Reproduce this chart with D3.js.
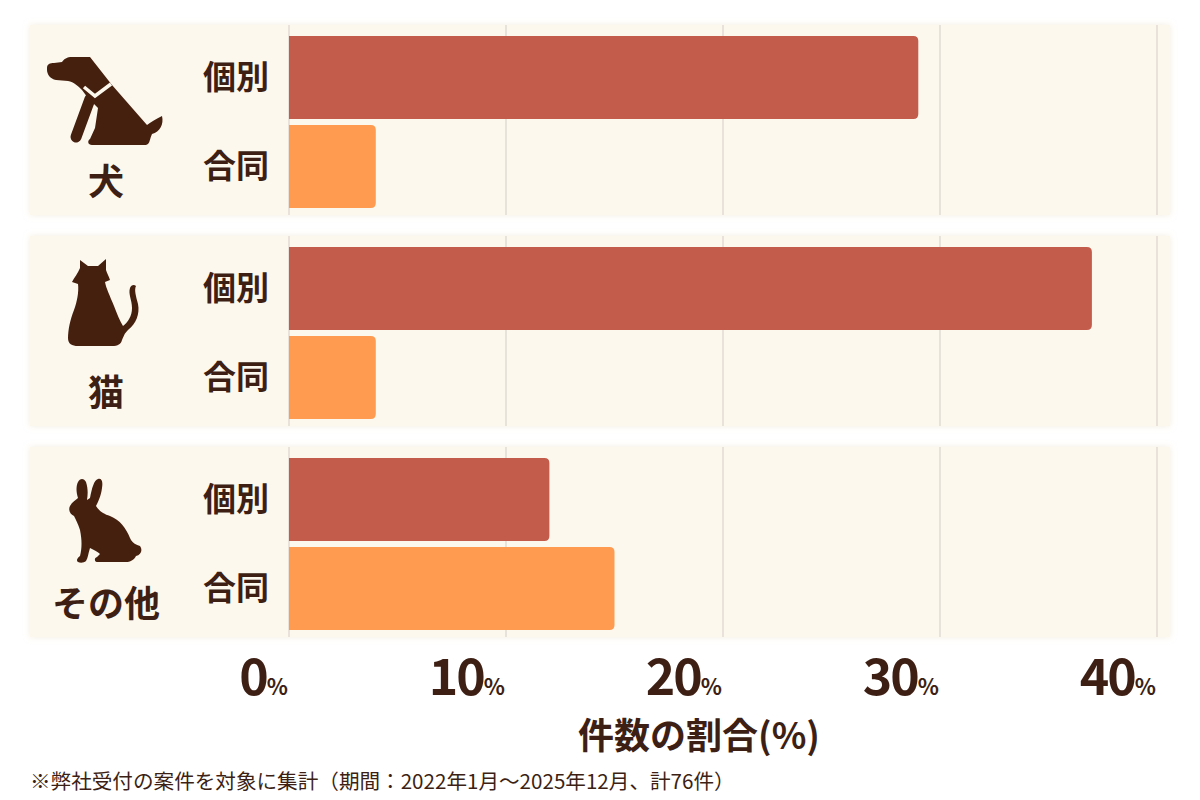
<!DOCTYPE html>
<html>
<head>
<meta charset="utf-8">
<script src="https://cdn.jsdelivr.net/npm/d3@7"></script>
<style>
  body { margin: 0; background: #fff; }
  svg text { font-family: "Noto Sans CJK JP", "Noto Sans", sans-serif; }
</style>
</head>
<body>
<div id="chart"></div>
<script>
// animal groups and the two service types
const animals = ["犬", "猫", "その他"];
const kinds = ["個別", "合同"];
// share of cases (%)
const kobetsu = [29, 37, 12];
const goudou = [4, 4, 15];
const ticks = [0, 10, 20, 30, 40];
const axisTitle = "件数の割合(%)";
const footnote = "※弊社受付の案件を対象に集計（期間：2022年1月～2025年12月、計76件）";

const width = 1200, height = 800;
const ink = "#3d1f14";
const panelFill = "#fdf8ee";
const colors = { "個別": "#c45c4c", "合同": "#fe9b50" };

const rows = animals.map((a, i) => ({ animal: a, values: [
  { kind: "個別", value: kobetsu[i] },
  { kind: "合同", value: goudou[i] }
] }));

const svg = d3.select("#chart").append("svg")
  .attr("width", width)
  .attr("height", height);

const defs = svg.append("defs");
const f = defs.append("filter").attr("id", "soft")
  .attr("x", "-5%").attr("y", "-10%").attr("width", "110%").attr("height", "120%");
f.append("feDropShadow").attr("dx", 0).attr("dy", 0)
  .attr("stdDeviation", 3).attr("flood-color", "#ece2cc").attr("flood-opacity", 0.6);

let x = d3.scaleLinear().domain([0, 40]).range([289, 1157]);
let y = d3.scaleBand().domain(animals).range([25, 637]).paddingInner(0.0995);
let yIn = d3.scaleBand().domain(kinds).range([11, 183]).paddingInner(0.0674);

// bar with rounded right end
function bar(x0, x1, y0, h, r) {
  r = Math.min(r, (x1 - x0));
  return "M" + x0 + "," + y0 +
    "H" + (x1 - r) + "Q" + x1 + "," + y0 + " " + x1 + "," + (y0 + r) +
    "V" + (y0 + h - r) + "Q" + x1 + "," + (y0 + h) + " " + (x1 - r) + "," + (y0 + h) +
    "H" + x0 + "Z";
}

let group = svg.selectAll(".panel")
  .data(rows)
  .enter()
  .append("g")
  .attr("class", "panel")
  .attr("transform", d => "translate(0," + y(d.animal) + ")");

group.append("rect")
  .attr("x", 30)
  .attr("width", 1140)
  .attr("height", y.bandwidth())
  .attr("fill", panelFill)
  .attr("filter", "url(#soft)");

// grid lines only inside panels
group.selectAll(".grid")
  .data(ticks)
  .enter()
  .append("line")
  .attr("x1", d => x(d)).attr("x2", d => x(d))
  .attr("y1", 0).attr("y2", y.bandwidth())
  .attr("stroke", "#d2cdc6")
  .attr("stroke-width", 1);

group.selectAll(".bar")
  .data(d => d.values)
  .enter()
  .append("path")
  .attr("d", d => bar(x(0), x(d.value), yIn(d.kind), yIn.bandwidth(), 5))
  .attr("fill", d => colors[d.kind]);

group.selectAll(".kind")
  .data(d => d.values)
  .enter()
  .append("text")
  .attr("x", 236)
  .attr("y", d => yIn(d.kind) + yIn.bandwidth() / 2)
  .attr("dy", "0.36em")
  .attr("text-anchor", "middle")
  .style("font-size", "33px")
  .style("font-weight", 700)
  .style("fill", ink)
  .text(d => d.kind);

group.append("text")
  .attr("x", 106)
  .attr("y", 170)
  .attr("text-anchor", "middle")
  .style("font-size", "36px")
  .style("font-weight", 700)
  .style("fill", ink)
  .text(d => d.animal);

// silhouettes (page coordinates for the dog, shifted for the others)
const icons = {
  "犬": {
    t: "translate(0,-25)",
    d: "M47,68 C47,64 50,63 54,63 L62,62 C64,59 67,57 72,57 L90,57 L112,85 L147,125 " +
       "C151,122 156,119 162,116 C164,124 160,132 152,134 C150,138 150,142 148,144 L146,145 " +
       "L92,145 C88,145 87,141 90,139 L95,128 L98,108 C92,102 86,96 82,90 C78,86 74,82 68,81 " +
       "L56,80 C50,79 47,74 47,70 Z"
  },
  "猫": {
    t: "translate(66,22)",
    d: "M14,10 L14,2 L22,8 L32,8 L40,1 L40,12 C41,15 43,19 44,22 L39,24 C40,30 44,38 48,48 " +
       "C51,56 54,63 57,68 C62,64 66,58 66,50 C66,42 62,36 64,30 C65,27 68,26 70,28 " +
       "C68,32 70,38 72,46 C74,56 70,66 62,72 C58,76 58,78 56,82 C55,86 52,88 46,88 " +
       "L12,88 C6,88 2,86 2,80 C2,72 4,62 8,52 C11,44 13,34 12,26 L6,24 C8,20 12,15 14,10 Z"
  },
  "その他": {
    t: "translate(64,31)",
    d: "M14,4 C16,0 20,0 22,4 C24,10 24,16 23,22 L26,20 C28,10 30,2 34,1 C38,0 39,4 38,10 " +
       "C37,18 34,24 32,28 C36,34 40,36 46,38 C56,42 62,50 66,60 C68,64 70,66 76,68 C79,72 77,77 72,78 " +
       "C70,82 66,84 62,84 L34,84 C30,84 30,80 33,79 L36,76 C34,74 30,72 26,70 C24,76 24,80 22,83 " +
       "C20,85 16,85 14,84 C12,83 13,80 16,78 C18,70 18,62 16,52 C14,46 12,42 10,38 " +
       "C6,36 4,32 6,28 C8,24 12,22 14,20 C12,14 12,8 14,4 Z"
  }
};

group.append("path")
  .attr("transform", d => icons[d.animal].t)
  .attr("d", d => icons[d.animal].d)
  .attr("fill", "#45200f");

let dog = group.filter(d => d.animal === "犬")
  .append("g")
  .attr("transform", icons["犬"].t);

// front leg, with a thin gap against the body
dog.append("path")
  .attr("d", "M85,118 L76,137")
  .attr("stroke", panelFill).attr("stroke-width", 17)
  .attr("stroke-linecap", "round");
dog.append("path")
  .attr("d", "M90,99 L76,137")
  .attr("stroke", "#45200f").attr("stroke-width", 11)
  .attr("stroke-linecap", "round");
// collar
dog.append("path")
  .attr("d", "M84,87 L95,96 L111,84")
  .attr("fill", "none")
  .attr("stroke", panelFill)
  .attr("stroke-width", 3.5);

// x axis labels
let tick = svg.selectAll(".tick")
  .data(ticks)
  .enter()
  .append("text")
  .attr("x", d => x(d) - 1)
  .attr("y", 695)
  .attr("text-anchor", "end")
  .style("font-weight", 700)
  .style("fill", ink);

tick.append("tspan")
  .style("font-size", "50px")
  .attr("letter-spacing", "-2px")
  .text(d => d);
tick.append("tspan")
  .style("font-size", "22px")
  .text("%");

svg.append("text")
  .attr("x", 699)
  .attr("y", 749)
  .attr("text-anchor", "middle")
  .style("font-size", "36px")
  .style("font-weight", 700)
  .style("fill", ink)
  .text(axisTitle);

svg.append("text")
  .attr("x", 30)
  .attr("y", 789)
  .style("font-size", "20.6px")
  .style("fill", ink)
  .text(footnote);
</script>
</body>
</html>
